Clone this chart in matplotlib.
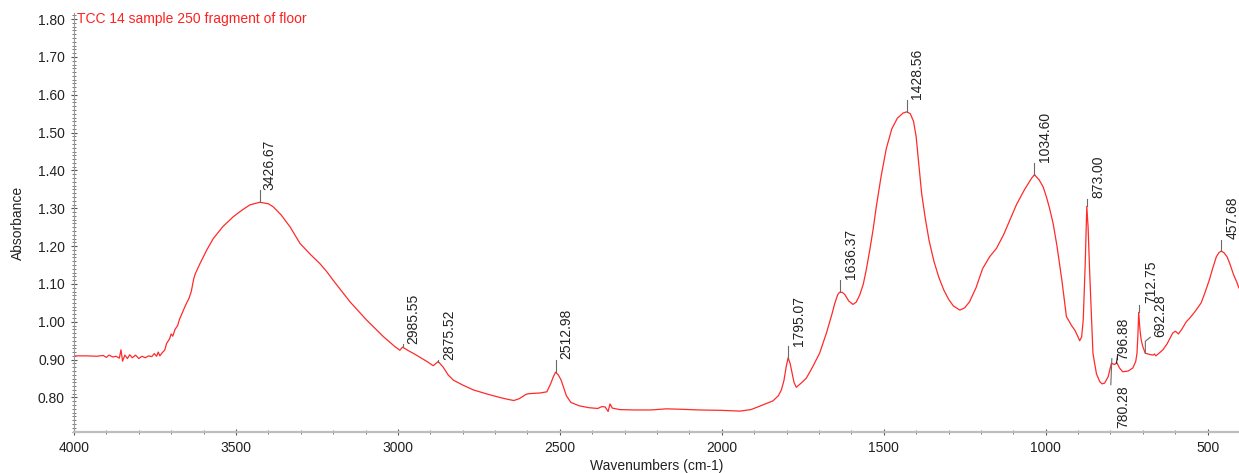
import numpy as np
import matplotlib.pyplot as plt
import matplotlib.transforms as mtransforms
from matplotlib.ticker import MultipleLocator, FormatStrFormatter

plt.rcParams['font.family'] = ['Liberation Sans', 'DejaVu Sans']

title = "TCC 14 sample 250 fragment of floor"

# spectrum (wavenumber, absorbance)
wavenumbers = [
    4000, 3960, 3930, 3910, 3900, 3892, 3880, 3870, 3860, 3855, 3850, 3843,
    3835, 3828, 3820, 3810, 3800, 3790, 3780, 3770, 3760, 3752, 3745, 3740,
    3735, 3728, 3720, 3714, 3705, 3700, 3695, 3688, 3680, 3675, 3665, 3655,
    3645, 3638, 3630, 3625, 3611, 3590, 3570, 3540, 3508, 3480, 3457, 3426.67,
    3400, 3385, 3360, 3333, 3302, 3270, 3241, 3220, 3200, 3148, 3097, 3045,
    3010, 2994, 2985.55, 2970, 2943, 2910, 2891, 2875.52, 2860, 2845, 2829,
    2800, 2767, 2720, 2685, 2660, 2642, 2625, 2605, 2597, 2560, 2540, 2528,
    2520, 2512.98, 2505, 2496, 2480, 2466, 2440, 2410, 2383, 2370, 2360, 2351,
    2345, 2338, 2315, 2270, 2220, 2171, 2130, 2068, 2000, 1944, 1910, 1883,
    1860, 1842, 1825, 1816, 1808, 1801, 1795.07, 1789, 1785, 1777, 1770, 1755,
    1739, 1720, 1698, 1677, 1660, 1651, 1642, 1636.37, 1628, 1620, 1608, 1595,
    1585, 1574, 1563, 1554, 1543, 1533, 1523, 1508, 1492, 1475, 1458, 1440, 1428.56,
    1418, 1408, 1400, 1392, 1383, 1372, 1360, 1345, 1330, 1315, 1300, 1285,
    1265, 1250, 1235, 1215, 1195, 1173, 1152, 1130, 1110, 1090, 1065, 1043,
    1034.60, 1020, 1008, 998, 988, 977, 965, 950, 936, 920, 910, 900, 895, 889,
    884, 878, 873.00, 869, 864, 858, 854, 849, 843, 833, 826, 818, 807, 800,
    796.88, 788, 780.28, 772, 762, 745, 731, 722, 718, 715, 712.75, 709, 705,
    700, 692.28, 680, 669, 664, 660, 650, 638, 625, 608, 600, 595, 590, 580,
    566, 555, 539, 520, 509, 495, 483, 473, 465, 457.68, 450, 440, 432, 420,
    410, 404, 400,
]
absorbance = [
    0.910, 0.910, 0.909, 0.911, 0.906, 0.912, 0.907, 0.909, 0.904, 0.926, 0.896, 0.912,
    0.903, 0.913, 0.905, 0.912, 0.903, 0.909, 0.905, 0.910, 0.908, 0.916, 0.909, 0.920,
    0.910, 0.918, 0.925, 0.943, 0.955, 0.968, 0.962, 0.980, 0.990, 1.005, 1.025, 1.045,
    1.062, 1.080, 1.115, 1.128, 1.154, 1.190, 1.220, 1.252, 1.278, 1.296, 1.309, 1.316,
    1.312, 1.304, 1.282, 1.251, 1.207, 1.178, 1.154, 1.133, 1.110, 1.053, 1.005, 0.961,
    0.935, 0.925, 0.933, 0.925, 0.912, 0.895, 0.884, 0.895, 0.880, 0.860, 0.846,
    0.833, 0.820, 0.808, 0.800, 0.795, 0.792, 0.797, 0.808, 0.810, 0.812, 0.815, 0.837,
    0.855, 0.867, 0.860, 0.846, 0.805, 0.787, 0.778, 0.773, 0.771, 0.776, 0.775, 0.763,
    0.783, 0.772, 0.768, 0.767, 0.767, 0.770, 0.769, 0.767, 0.766, 0.764, 0.768, 0.777,
    0.785, 0.791, 0.805, 0.820, 0.845, 0.882, 0.905, 0.890, 0.873, 0.840, 0.827, 0.838,
    0.851, 0.880, 0.917, 0.970, 1.020, 1.049, 1.072, 1.078, 1.078, 1.072, 1.055, 1.046,
    1.052, 1.071, 1.100, 1.137, 1.190, 1.243, 1.304, 1.385, 1.458, 1.510, 1.538, 1.552, 1.555,
    1.550, 1.530, 1.490, 1.420, 1.340, 1.275, 1.215, 1.160, 1.118, 1.085, 1.060, 1.042,
    1.031, 1.037, 1.053, 1.090, 1.140, 1.172, 1.194, 1.230, 1.270, 1.310, 1.350, 1.380,
    1.389, 1.375, 1.357, 1.331, 1.300, 1.260, 1.200, 1.110, 1.014, 0.990, 0.978, 0.960, 0.950, 0.960,
    1.005, 1.150, 1.305, 1.250, 1.128, 1.000, 0.917, 0.891, 0.862, 0.842, 0.836, 0.838, 0.855, 0.880,
    0.891, 0.887, 0.892, 0.878, 0.868, 0.870, 0.878, 0.895, 0.917, 0.970, 1.025, 0.980, 0.952,
    0.934, 0.917, 0.914, 0.912, 0.915, 0.910, 0.917, 0.926, 0.942, 0.970, 0.975, 0.972, 0.968, 0.980,
    1.000, 1.010, 1.027, 1.050, 1.075, 1.110, 1.145, 1.172, 1.183, 1.187, 1.183, 1.172, 1.155, 1.125,
    1.105, 1.091, 1.085,
]

peak_labels = ["3426.67", "2985.55", "2875.52", "2512.98", "1795.07", "1636.37",
               "1428.56", "1034.60", "873.00", "796.88", "780.28", "712.75",
               "692.28", "457.68"]

px = 72 / 100  # points per pixel at dpi 100

fig = plt.figure(figsize=(12.39, 4.73), dpi=100)
ax = fig.add_axes([74 / 1239, 40.7 / 473, 1166 / 1239, 419.6 / 473])

ax.plot(wavenumbers, absorbance, color='#ff2a2a', lw=0.9)

ax.set_xlim(4000, 400)
ax.set_ylim(0.708, 1.817)

ax.xaxis.set_major_locator(MultipleLocator(500))
ax.xaxis.set_minor_locator(MultipleLocator(100))
ax.yaxis.set_major_locator(MultipleLocator(0.1))
ax.yaxis.set_minor_locator(MultipleLocator(0.01))
ax.yaxis.set_major_formatter(FormatStrFormatter('%.2f'))

for s in ['top', 'right']:
    ax.spines[s].set_visible(False)
ax.spines['left'].set_color('#9a9a9a')
ax.spines['left'].set_linewidth(0.8)
ax.spines['bottom'].set_color('#bdbdbd')
ax.spines['bottom'].set_linewidth(1.6)

ax.tick_params(which='major', direction='inout', length=5, width=0.8,
               color='#555555', labelsize=10, labelcolor='#222222', pad=4)
ax.tick_params(which='minor', direction='inout', length=3, width=0.7,
               color='#777777')

ax.set_xlabel("Wavenumbers (cm-1)", fontsize=10, color='#222222')
ax.set_ylabel("Absorbance", fontsize=10, color='#222222')
ax.xaxis.set_label_coords(0.5, -0.064)
ax.yaxis.set_label_coords(-0.042, 0.5)

ax.text(0.0025, 1.80, title, transform=ax.get_yaxis_transform(),
        color='#ff2020', fontsize=10, va='center', ha='left')

# stem polyline and text offset, in pixels from the peak point
label_style = {
    "3426.67": ([(0, 0), (0, 12)], (3, 12)),
    "2985.55": ([(0, 0), (0, 3)], (4, 3)),
    "2875.52": ([(0, 0), (0, 2)], (4, 2)),
    "2512.98": ([(0, 0), (0, 12)], (4, 13)),
    "1795.07": ([(0, 0), (0, 12)], (4, 12)),
    "1636.37": ([(0, 0), (0, 12)], (4, 13)),
    "1428.56": ([(0, 0), (0, 12)], (3, 13)),
    "1034.60": ([(0, 0), (0, 12)], (4, 13)),
    "873.00": ([(0, 0), (0, 7)], (5, 8)),
    "796.88": ([(5, 0), (6, 7)], (5, 3)),
    "780.28": ([(-5, 4), (-6, -22)], (-1, -23)),
    "712.75": ([(0, 0), (0, 7)], (6, 9)),
    "692.28": ([(0, 0), (0, 12), (5, 16)], (8, 16)),
    "457.68": ([(0, 0), (0, 11)], (4, 12)),
}

wn_arr = np.array(wavenumbers)
for lab in peak_labels:
    wn = float(lab)
    i = int(np.argmin(np.abs(wn_arr - wn)))
    val = absorbance[i]
    stem, (tx, ty) = label_style[lab]
    x0, y0 = ax.transData.transform((wn, val))
    sx = [p[0] for p in stem]
    sy = [p[1] for p in stem]
    stem_color = '#222222' if lab == "796.88" else '#6a6a6a'
    ax.plot(sx, sy, color=stem_color, lw=0.8,
            transform=mtransforms.Affine2D().translate(x0, y0))
    va = 'top' if ty < 0 else 'bottom'
    ax.annotate(lab, xy=(wn, val), xytext=(tx * px, ty * px), textcoords='offset points',
                rotation=90, ha='left', va=va, fontsize=10, color='#222222')

fig.savefig("out.png", dpi=100)
